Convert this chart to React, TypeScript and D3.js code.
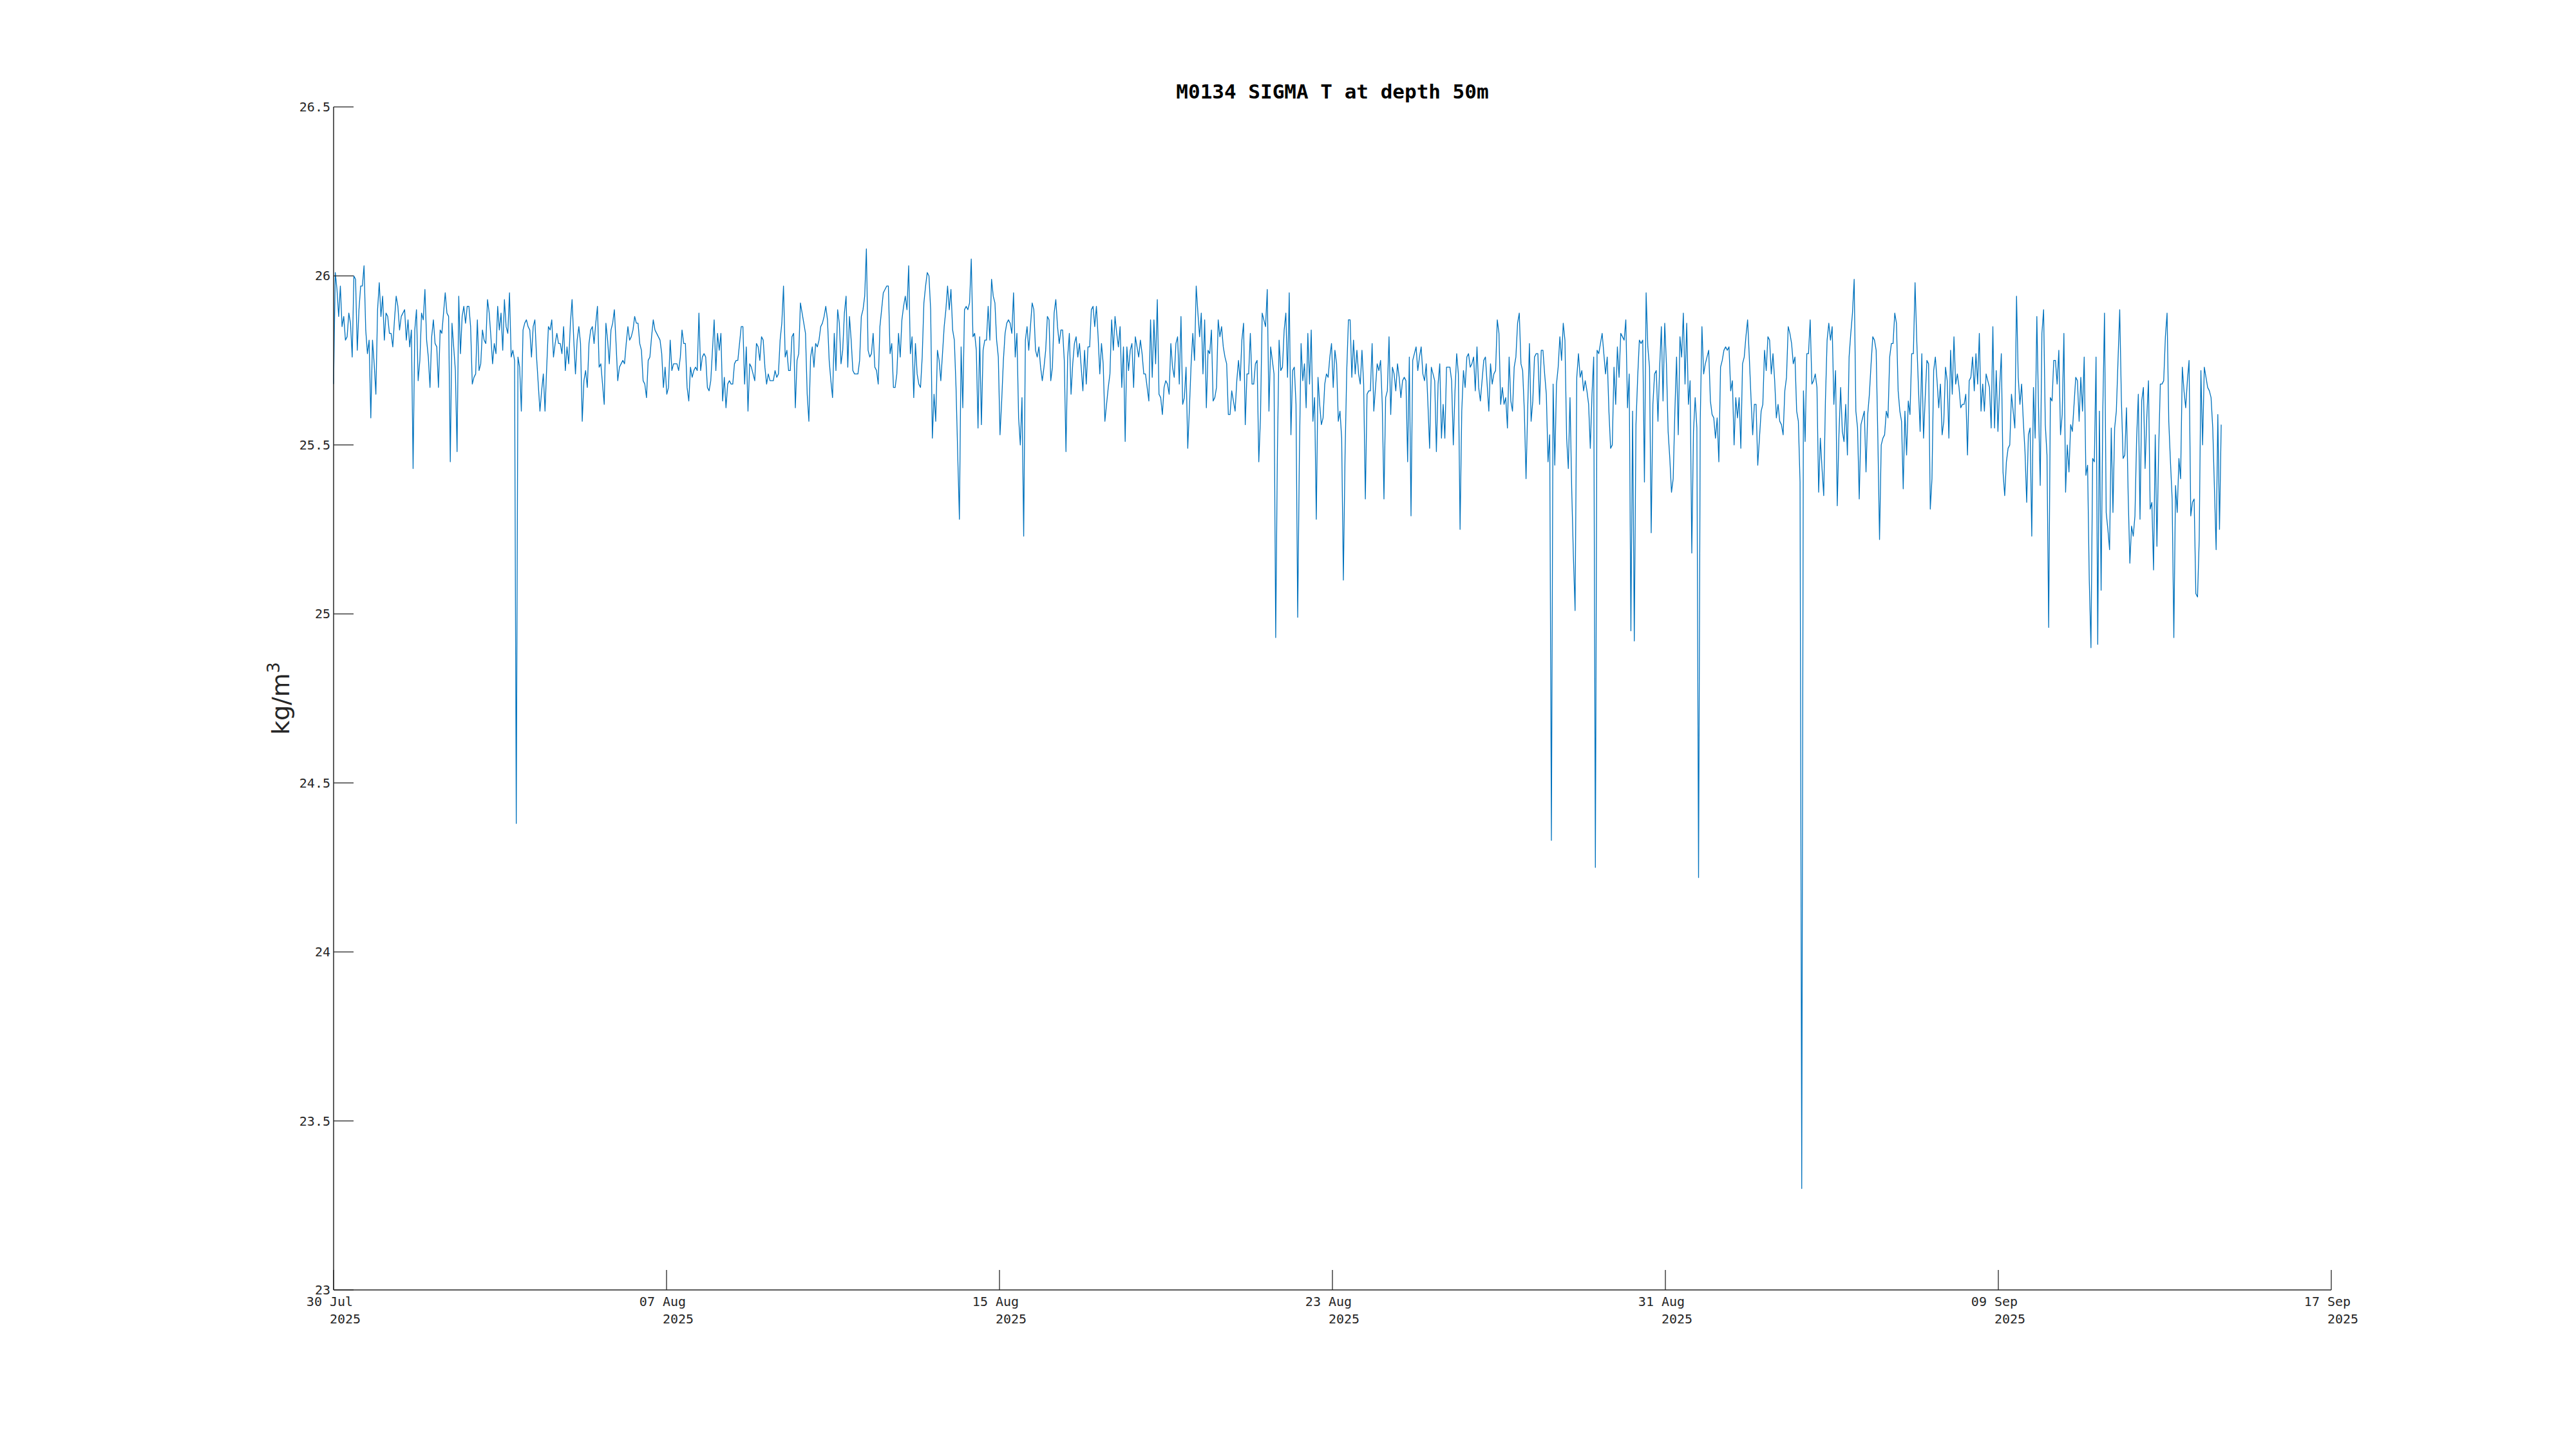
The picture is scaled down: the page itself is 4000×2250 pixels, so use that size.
import React from "react";
import * as d3 from "d3";

// Hourly SIGMA T readings (kg/m^3), 30 Jul 2025 00:00 -> 14 Sep 2025 ~07:00
const week1 = [
  25.68, 26.01, 25.96, 25.88, 25.97, 25.85, 25.88, 25.81, 25.82, 25.89,
  25.86, 25.76, 26.0, 25.99, 25.78, 25.9, 25.97, 25.97, 26.03, 25.84,
  25.77, 25.81, 25.58, 25.81, 25.74, 25.65, 25.9, 25.98, 25.88, 25.94,
  25.81, 25.89, 25.88, 25.83, 25.83, 25.79, 25.87, 25.94, 25.91, 25.84,
  25.88, 25.89, 25.9, 25.81, 25.87, 25.79, 25.84, 25.43, 25.84, 25.9,
  25.69, 25.75, 25.89, 25.87, 25.96, 25.81, 25.76, 25.67, 25.82, 25.87,
  25.8, 25.79, 25.67, 25.84, 25.83, 25.89, 25.95, 25.89, 25.88, 25.45,
  25.86, 25.79, 25.72, 25.48, 25.94, 25.77, 25.88, 25.91, 25.86, 25.91,
  25.91, 25.85, 25.68, 25.7, 25.71, 25.87, 25.72, 25.74, 25.84, 25.81,
  25.8, 25.93, 25.89, 25.82, 25.74, 25.8, 25.77, 25.91, 25.84, 25.89,
  25.78, 25.93, 25.85, 25.83, 25.95, 25.76, 25.78, 25.75, 24.38, 25.76,
  25.73, 25.6, 25.84, 25.86, 25.87, 25.85, 25.84, 25.76, 25.85, 25.87,
  25.76, 25.68, 25.6, 25.66, 25.71, 25.6, 25.73, 25.85, 25.84, 25.87,
  25.76, 25.8, 25.83, 25.8, 25.8, 25.77, 25.85, 25.72, 25.79, 25.74,
  25.86, 25.93, 25.81, 25.71, 25.81, 25.85, 25.8, 25.57, 25.69, 25.72,
  25.67, 25.8, 25.84, 25.85, 25.8, 25.86, 25.91, 25.73, 25.74, 25.68,
  25.62, 25.86, 25.81, 25.74, 25.84, 25.86, 25.9, 25.8, 25.69, 25.73,
  25.74, 25.75, 25.74, 25.8, 25.85, 25.81, 25.82, 25.84, 25.88, 25.86,
  25.86, 25.8, 25.78, 25.69, 25.68, 25.64,
];
const week2 = [
  25.75, 25.76, 25.82, 25.87, 25.84, 25.83, 25.82, 25.81, 25.77, 25.67,
  25.73, 25.65, 25.67, 25.81, 25.72, 25.74, 25.74, 25.74, 25.72, 25.76,
  25.84, 25.8, 25.8, 25.67, 25.63, 25.73, 25.7, 25.72, 25.73, 25.72,
  25.89, 25.72, 25.76, 25.77, 25.76, 25.67, 25.66, 25.69, 25.78, 25.87,
  25.72, 25.83, 25.78, 25.83, 25.63, 25.7, 25.61, 25.68, 25.69, 25.68,
  25.68, 25.74, 25.75, 25.75, 25.8, 25.85, 25.85, 25.68, 25.79, 25.6,
  25.74, 25.73, 25.71, 25.69, 25.8, 25.79, 25.75, 25.82, 25.81, 25.73,
  25.68, 25.71, 25.69, 25.69, 25.69, 25.72, 25.7, 25.71, 25.81, 25.86,
  25.97, 25.76, 25.78, 25.72, 25.72, 25.82, 25.83, 25.61, 25.75, 25.77,
  25.92, 25.89, 25.86, 25.83, 25.65, 25.57, 25.76, 25.79, 25.73, 25.8,
  25.79, 25.81, 25.85, 25.86, 25.88, 25.91, 25.87, 25.75, 25.69, 25.64,
  25.83, 25.72, 25.9, 25.86, 25.74, 25.78, 25.89, 25.94, 25.73, 25.88,
  25.81, 25.72, 25.71, 25.71, 25.71, 25.75, 25.88, 25.9, 25.94, 26.08,
  25.78, 25.76, 25.77, 25.83, 25.73, 25.72, 25.68, 25.85, 25.9, 25.95,
  25.96, 25.97, 25.97, 25.77, 25.8, 25.67, 25.67, 25.71, 25.83, 25.76,
  25.87, 25.91, 25.94, 25.9, 26.03, 25.77, 25.82, 25.64, 25.8, 25.71,
  25.68, 25.67, 25.76, 25.92, 25.97, 26.01, 26.0, 25.9, 25.52, 25.65,
  25.57, 25.78, 25.75, 25.69, 25.77, 25.85, 25.9, 25.97, 25.9, 25.96,
  25.84, 25.81, 25.67, 25.47, 25.28, 25.79, 25.61,
];
const week3 = [
  25.9, 25.91, 25.9, 25.92, 26.05, 25.82, 25.83, 25.78, 25.55, 25.82,
  25.56, 25.78, 25.81, 25.81, 25.91, 25.81, 25.99, 25.94, 25.92, 25.81,
  25.76, 25.53, 25.63, 25.75, 25.83, 25.86, 25.87, 25.86, 25.83, 25.95,
  25.76, 25.83, 25.58, 25.5, 25.64, 25.23, 25.81, 25.85, 25.78, 25.85,
  25.92, 25.9, 25.78, 25.76, 25.79, 25.73, 25.69, 25.73, 25.78, 25.88,
  25.87, 25.69, 25.73, 25.89, 25.93, 25.85, 25.8, 25.84, 25.84, 25.75,
  25.48, 25.76, 25.83, 25.65, 25.74, 25.8, 25.82, 25.76, 25.8, 25.73,
  25.66, 25.78, 25.68, 25.79, 25.79, 25.9, 25.91, 25.85, 25.91, 25.82,
  25.71, 25.8, 25.74, 25.57, 25.62, 25.67, 25.71, 25.87, 25.78, 25.88,
  25.83, 25.79, 25.85, 25.67, 25.79, 25.51, 25.79, 25.72, 25.78, 25.8,
  25.67, 25.82, 25.79, 25.76, 25.81, 25.77, 25.71, 25.71, 25.67, 25.63,
  25.87, 25.7, 25.87, 25.74, 25.93, 25.65, 25.64, 25.59, 25.67, 25.69,
  25.68, 25.65, 25.8, 25.73, 25.7, 25.8, 25.82, 25.68, 25.88, 25.62,
  25.64, 25.73, 25.49, 25.61, 25.74, 25.83, 25.75, 25.97, 25.89, 25.82,
  25.89, 25.71, 25.87, 25.61, 25.78, 25.77, 25.84, 25.63, 25.64, 25.67,
  25.87, 25.82, 25.85, 25.79, 25.76, 25.74, 25.59, 25.59, 25.66, 25.63,
  25.6, 25.69, 25.75, 25.69, 25.81, 25.86, 25.56, 25.71, 25.71, 25.83,
  25.68, 25.68, 25.74, 25.75, 25.45, 25.58, 25.89, 25.87, 25.85, 25.96,
  25.6, 25.79, 25.75, 25.71, 24.93, 25.48, 25.81,
];
const week4 = [
  25.72, 25.73, 25.84, 25.89, 25.7, 25.95, 25.53, 25.72, 25.73, 25.62,
  24.99, 25.47, 25.8, 25.69, 25.74, 25.61, 25.83, 25.68, 25.84, 25.57,
  25.64, 25.28, 25.7, 25.62, 25.56, 25.58, 25.68, 25.71, 25.7, 25.76,
  25.8, 25.67, 25.78, 25.74, 25.57, 25.6, 25.52, 25.1, 25.47, 25.72,
  25.87, 25.87, 25.7, 25.81, 25.71, 25.78, 25.71, 25.68, 25.78, 25.68,
  25.34, 25.65, 25.66, 25.66, 25.8, 25.6, 25.67, 25.74, 25.72, 25.75,
  25.62, 25.34, 25.64, 25.66, 25.82, 25.59, 25.73, 25.71, 25.66, 25.74,
  25.7, 25.64, 25.69, 25.7, 25.69, 25.45, 25.76, 25.29, 25.75, 25.77,
  25.79, 25.72, 25.76, 25.79, 25.71, 25.69, 25.74, 25.62, 25.49, 25.73,
  25.71, 25.69, 25.48, 25.68, 25.74, 25.52, 25.62, 25.52, 25.73, 25.73,
  25.73, 25.69, 25.5, 25.66, 25.77, 25.71, 25.25, 25.6, 25.72, 25.67,
  25.76, 25.77, 25.73, 25.74, 25.76, 25.66, 25.79, 25.67, 25.63, 25.69,
  25.75, 25.76, 25.68, 25.6, 25.74, 25.68, 25.71, 25.72, 25.87, 25.83,
  25.62, 25.67, 25.62, 25.64, 25.55, 25.76, 25.63, 25.6, 25.73, 25.76,
  25.86, 25.89, 25.74, 25.72, 25.6, 25.4, 25.61, 25.8, 25.57, 25.63,
  25.76, 25.77, 25.77, 25.62, 25.78, 25.78, 25.71, 25.65, 25.45, 25.53,
  24.33, 25.68, 25.44, 25.68, 25.73, 25.82, 25.75, 25.86, 25.81, 25.52,
  25.43, 25.64, 25.37, 25.17, 25.01, 25.7, 25.77, 25.7, 25.72, 25.66,
  25.69, 25.66, 25.62, 25.49, 25.65, 25.76, 24.25, 25.78,
];
const week5 = [
  25.77, 25.8, 25.83, 25.77, 25.71, 25.76, 25.6, 25.49, 25.5, 25.73,
  25.62, 25.79, 25.7, 25.83, 25.82, 25.81, 25.87, 25.61, 25.71, 24.95,
  25.6, 24.92, 25.56, 25.7, 25.81, 25.8, 25.81, 25.39, 25.95, 25.79,
  25.73, 25.24, 25.62, 25.71, 25.72, 25.57, 25.73, 25.85, 25.63, 25.86,
  25.74, 25.54, 25.46, 25.36, 25.4, 25.6, 25.76, 25.53, 25.82, 25.76,
  25.89, 25.68, 25.86, 25.62, 25.69, 25.18, 25.54, 25.64, 25.55, 24.22,
  25.57, 25.85, 25.71, 25.74, 25.76, 25.78, 25.63, 25.59, 25.58, 25.52,
  25.58, 25.45, 25.73, 25.75, 25.78, 25.79, 25.78, 25.79, 25.66, 25.69,
  25.5, 25.64, 25.58, 25.64, 25.49, 25.74, 25.76, 25.82, 25.87, 25.76,
  25.64, 25.53, 25.62, 25.62, 25.44, 25.52, 25.6, 25.62, 25.78, 25.72,
  25.82, 25.81, 25.71, 25.77, 25.69, 25.58, 25.62, 25.57, 25.56, 25.53,
  25.66, 25.7, 25.85, 25.83, 25.8, 25.74, 25.76, 25.6, 25.57, 25.39,
  23.3, 25.66, 25.51, 25.77, 25.77, 25.87, 25.68, 25.69, 25.71, 25.67,
  25.36, 25.52, 25.43, 25.35, 25.63, 25.81, 25.86, 25.81, 25.85, 25.62,
  25.72, 25.32, 25.53, 25.67, 25.54, 25.51, 25.62, 25.47, 25.76, 25.83,
  25.89, 25.99, 25.6, 25.55, 25.34, 25.56, 25.58, 25.6, 25.42, 25.59,
  25.65, 25.74, 25.82, 25.81, 25.78, 25.52, 25.22, 25.5, 25.52, 25.53,
  25.6, 25.58, 25.76, 25.8, 25.8, 25.89, 25.86, 25.66, 25.6, 25.57,
  25.37, 25.6, 25.47, 25.63, 25.59, 25.77,
];
const week6 = [
  25.77, 25.98, 25.81, 25.67, 25.54, 25.77, 25.52, 25.64, 25.75, 25.74,
  25.31, 25.4, 25.72, 25.76, 25.69, 25.61, 25.68, 25.53, 25.57, 25.73,
  25.69, 25.52, 25.78, 25.65, 25.82, 25.68, 25.71, 25.67, 25.61, 25.62,
  25.62, 25.65, 25.47, 25.69, 25.7, 25.76, 25.66, 25.77, 25.68, 25.83,
  25.6, 25.68, 25.6, 25.71, 25.69, 25.67, 25.55, 25.85, 25.55, 25.72,
  25.54, 25.67, 25.77, 25.42, 25.35, 25.45, 25.49, 25.5, 25.65, 25.6,
  25.55, 25.94, 25.7, 25.62, 25.68, 25.57, 25.48, 25.33, 25.53, 25.55,
  25.23, 25.67, 25.52, 25.88, 25.61, 25.38, 25.83, 25.9, 25.56, 25.47,
  24.96, 25.64, 25.63, 25.75, 25.75, 25.68, 25.78, 25.53, 25.59, 25.83,
  25.36, 25.5, 25.42, 25.56, 25.54, 25.62, 25.7, 25.69, 25.57, 25.7,
  25.6, 25.76, 25.41, 25.44, 25.1, 24.9, 25.46, 25.45, 25.76, 24.91,
  25.6, 25.07, 25.6, 25.89, 25.3, 25.25, 25.19, 25.55, 25.3, 25.55,
  25.6, 25.75, 25.9, 25.63, 25.46, 25.47, 25.61, 25.35, 25.15, 25.26,
  25.23, 25.29, 25.52, 25.65, 25.28, 25.63, 25.67, 25.43, 25.58, 25.69,
  25.31, 25.33, 25.13, 25.53, 25.2, 25.48, 25.68, 25.68, 25.69, 25.82,
  25.89, 25.57, 25.45, 25.34, 24.93, 25.38, 25.3, 25.46, 25.4, 25.73,
  25.66, 25.61, 25.69, 25.75, 25.29, 25.33, 25.34, 25.06, 25.05, 25.22,
  25.72, 25.5, 25.73, 25.7, 25.67, 25.66, 25.64, 25.55, 25.37, 25.19,
  25.59, 25.25, 25.56,
];

const sigmaT = [...week1, ...week2, ...week3, ...week4, ...week5, ...week6];
const seriesStart = "2025-07-30T00:00:00Z";
const seriesEnd = "2025-09-14T07:12:00Z";

const xDomain = ["2025-07-30T00:00:00Z", "2025-09-17T00:00:00Z"];
const xTickDates = [
  "2025-07-30T00:00:00Z",
  "2025-08-07T04:00:00Z",
  "2025-08-15T08:00:00Z",
  "2025-08-23T12:00:00Z",
  "2025-08-31T16:00:00Z",
  "2025-09-08T20:00:00Z",
  "2025-09-17T00:00:00Z",
];
const xTickLabels = ["30 Jul", "07 Aug", "15 Aug", "23 Aug", "31 Aug", "09 Sep", "17 Sep"];
const xTickYear = "2025";
const yTicks = [23, 23.5, 24, 24.5, 25, 25.5, 26, 26.5];
const titleText = "M0134 SIGMA T at depth 50m";

export default function App() {
  const W = 4000;
  const H = 2250;
  const left = 518;
  const right = 3620;
  const top = 166;
  const bottom = 2003;
  const ink = "#262626";
  const mono = "'DejaVu Sans Mono', monospace";
  const fs = 20;
  const cw = fs * 0.602;
  const tickLen = 31;

  const x = d3
    .scaleUtc()
    .domain(xDomain.map((d) => new Date(d)))
    .range([left, right]);
  const y = d3.scaleLinear().domain([23, 26.5]).range([bottom, top]);

  const t0 = +new Date(seriesStart);
  const t1 = +new Date(seriesEnd);
  const n = sigmaT.length;
  const pts: [number, number][] = sigmaT.map((v, i) => [t0 + ((t1 - t0) * i) / (n - 1), v]);
  const path = d3
    .line<[number, number]>()
    .x((d) => x(new Date(d[0])))
    .y((d) => y(d[1]))(pts);

  return (
    <svg
      width={W}
      height={H}
      viewBox={`0 0 ${W} ${H}`}
      style={{ position: "absolute", left: 0, top: 0, background: "#fff" }}
    >
      <rect x={0} y={0} width={W} height={H} fill="#fff" />
      <path d={path || ""} fill="none" stroke="#0072BD" strokeWidth={1.3} strokeLinejoin="round" />

      {/* axes */}
      <line x1={left} y1={top} x2={left} y2={bottom} stroke={ink} strokeWidth={1.5} />
      <line x1={left} y1={bottom} x2={right} y2={bottom} stroke={ink} strokeWidth={1.5} />

      {yTicks.map((v) => (
        <g key={"y" + v}>
          <line x1={left} x2={left + tickLen} y1={y(v)} y2={y(v)} stroke={ink} strokeWidth={1.3} />
          <text
            x={left - 5}
            y={y(v)}
            textAnchor="end"
            dominantBaseline="central"
            fontFamily={mono}
            fontSize={fs}
            fill={ink}
          >
            {String(v)}
          </text>
        </g>
      ))}

      {xTickDates.map((d, i) => {
        const px = x(new Date(d));
        return (
          <g key={"x" + i}>
            <line x1={px} x2={px} y1={bottom} y2={bottom - tickLen} stroke={ink} strokeWidth={1.3} />
            <text x={px - 3.5 * cw} y={bottom + 25} fontFamily={mono} fontSize={fs} fill={ink}>
              {xTickLabels[i]}
            </text>
            <text x={px - 0.5 * cw} y={bottom + 52} fontFamily={mono} fontSize={fs} fill={ink}>
              {xTickYear}
            </text>
          </g>
        );
      })}

      <text
        x={(left + right) / 2}
        y={153}
        textAnchor="middle"
        fontFamily={mono}
        fontWeight="bold"
        fontSize={31}
        fill="#000"
      >
        {titleText}
      </text>

      <text
        transform={`translate(449, ${(top + bottom) / 2}) rotate(-90)`}
        textAnchor="middle"
        fontFamily="'DejaVu Sans', sans-serif"
        fontSize={38}
        fill={ink}
      >
        kg/m
        <tspan fontSize={27} dy={-15}>
          3
        </tspan>
      </text>
    </svg>
  );
}
